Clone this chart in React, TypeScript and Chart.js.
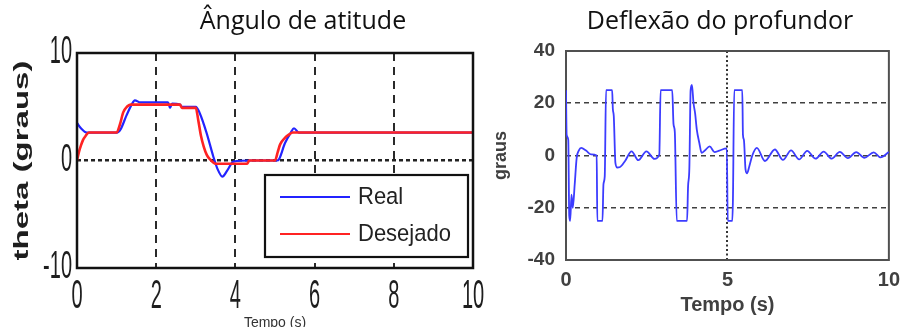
import React, { useEffect, useRef } from "react";
import { Chart, registerables } from "chart.js";

Chart.register(...registerables);
Chart.defaults.font.family = '"Liberation Sans", Arial, sans-serif';

// ---------- text ----------
const TITLE_LEFT = "Ângulo de atitude";
const TITLE_RIGHT = "Deflexão do profundor";
const LEFT_Y_LABEL = "theta (graus)";
const RIGHT_Y_LABEL = "graus";
const X_LABEL = "Tempo (s)";
const LABEL_REAL = "Real";
const LABEL_DESEJADO = "Desejado";

// ---------- ticks ----------
const leftXTicks = [0, 2, 4, 6, 8, 10];
const leftYTicks = [-10, 0, 10];
const rightXTicks = [0, 5, 10];
const rightYTicks = [-40, -20, 0, 20, 40];

// ---------- left chart: attitude angle ----------
const realT = [0, 0.1, 0.25, 0.35, 1.0, 1.1, 1.25, 1.38, 1.46, 1.6, 2.3, 2.35, 2.4, 2.6, 2.65, 3.0, 3.1, 3.27, 3.44, 3.55, 3.67, 3.8, 3.95, 4.4, 5.05, 5.1, 5.25, 5.4, 5.48, 5.6, 10];
const realV = [3.5, 3.0, 2.6, 2.6, 2.6, 2.9, 4.2, 5.2, 5.6, 5.4, 5.4, 4.9, 5.3, 5.2, 5.0, 5.0, 4.4, 2.6, 0.4, -0.8, -1.5, -0.9, -0.1, 0, 0, 0.1, 1.6, 2.6, 3.0, 2.6, 2.6];

const desT = [0, 0.05, 0.1, 0.15, 0.22, 0.3, 1.0, 1.08, 1.17, 1.26, 1.35, 2.6, 2.65, 3.0, 3.06, 3.13, 3.2, 3.28, 3.36, 3.5, 4.3, 4.35, 5.0, 5.07, 5.13, 5.25, 5.35, 5.45, 10];
const desV = [0, 0.8, 1.4, 1.9, 2.3, 2.6, 2.6, 3.3, 4.5, 5.0, 5.2, 5.2, 4.9, 4.9, 3.8, 2.3, 1.3, 0.5, 0.1, -0.3, -0.3, 0, 0, 0.8, 1.5, 2.1, 2.4, 2.6, 2.6];

// ---------- right chart: elevator deflection ----------
const deflT = [0, 0.02, 0.07, 0.1, 0.13, 0.17, 0.21, 0.27, 0.33, 0.4, 0.47, 0.62, 0.78, 0.95, 0.97, 1.13, 1.16, 1.2, 1.24, 1.43, 1.45, 1.48, 1.53, 1.59, 1.66, 1.83, 2.03, 2.24, 2.49, 2.74, 2.89, 2.93, 3.29, 3.33, 3.37, 3.43, 3.75, 3.78, 3.82, 3.86, 3.9, 3.95, 4.0, 4.05, 4.13, 4.2, 4.3, 4.45, 4.6, 4.75, 4.98, 5.01, 5.15, 5.17, 5.21, 5.46, 5.48, 5.51, 5.56, 5.61, 5.68, 5.77, 5.91, 6.16, 6.47, 6.72, 6.97, 7.22, 7.47, 7.73, 7.98, 8.23, 8.48, 8.73, 8.99, 9.24, 9.53, 9.74, 10];
const deflV = [25, 8, 6, -23, -25, -15, -20, -11, -1, 2, 2.9, 1.9, 0.4, 0, -25, -25, -11, -8, 25, 25, 18, 15, -2.8, -4.6, -4.5, -2.1, 1.6, -1.8, 1.6, -1.3, 0.4, 25, 25, 12, 9, -25, -25, -12, -5, 25, 27, 20, 16, 10, 4.8, 1, 1.9, 3.5, 1.3, 1.9, 2.7, -25, -25, -17, 25, 25, 8, 6, -5.3, -6.8, -4, 0, 2.9, -2.1, 2.3, -1.7, 2.0, -1.5, 1.8, -1.2, 1.5, -1.2, 1.4, -1.0, 1.3, -0.9, 1.2, -0.7, 1.3];

const zip = (t: number[], v: number[]) => t.map((x, i) => ({ x, y: v[i] }));
const TRANSPARENT = "rgba(0,0,0,0)";

function makeFrame(color: string, width: number, beforeData: boolean) {
  const draw = (chart: any) => {
    const { ctx, chartArea: a } = chart;
    ctx.save();
    ctx.setLineDash([]);
    ctx.strokeStyle = color;
    ctx.lineWidth = width;
    ctx.strokeRect(a.left, a.top, a.right - a.left, a.bottom - a.top);
    ctx.restore();
  };
  return beforeData
    ? { id: "frame", beforeDatasetsDraw: draw }
    : { id: "frame", afterDatasetsDraw: draw };
}

const leftLabels = {
  id: "leftLabels",
  afterDraw(chart: any) {
    const { ctx, chartArea: a, scales } = chart;
    const xs = scales.x;
    const ys = scales.y;
    ctx.save();
    ctx.fillStyle = "#1e1e1e";
    ctx.font = '20px "Liberation Sans", Arial, sans-serif';
    ctx.textBaseline = "middle";
    ctx.textAlign = "right";
    for (const t of ys.ticks) {
      ctx.save();
      ctx.translate(a.left - 5, ys.getPixelForValue(t.value));
      ctx.scale(1, 1.9);
      ctx.fillText(String(t.value), 0, 0);
      ctx.restore();
    }
    ctx.textAlign = "center";
    for (const t of xs.ticks) {
      ctx.save();
      ctx.translate(xs.getPixelForValue(t.value), a.bottom + 29);
      ctx.scale(1, 2.0);
      ctx.fillText(String(t.value), 0, 0);
      ctx.restore();
    }
    ctx.font = 'bold 20px "Liberation Sans", Arial, sans-serif';
    ctx.save();
    ctx.translate(22, (a.top + a.bottom) / 2);
    ctx.scale(1, 1.65);
    ctx.rotate(-Math.PI / 2);
    ctx.fillText(LEFT_Y_LABEL, 0, 0);
    ctx.restore();
    ctx.restore();
  },
};

const boxLegend = {
  id: "boxLegend",
  afterDraw(chart: any) {
    const { ctx, chartArea: a } = chart;
    const w = 203;
    const h = 82;
    const bx = a.right - 5 - w;
    const by = a.bottom - 11 - h;
    ctx.save();
    ctx.setLineDash([]);
    ctx.fillStyle = "#ffffff";
    ctx.fillRect(bx, by, w, h);
    ctx.strokeStyle = "#111111";
    ctx.lineWidth = 2.2;
    ctx.strokeRect(bx, by, w, h);
    const rows = [22, 59];
    chart.data.datasets.forEach((d: any, i: number) => {
      const yy = by + rows[i];
      ctx.strokeStyle = d.borderColor;
      ctx.lineWidth = 2;
      ctx.beginPath();
      ctx.moveTo(bx + 15, yy);
      ctx.lineTo(bx + 85, yy);
      ctx.stroke();
      ctx.fillStyle = "#222222";
      ctx.font = '22px "Liberation Sans", Arial, sans-serif';
      ctx.textAlign = "left";
      ctx.textBaseline = "middle";
      ctx.save();
      ctx.translate(bx + 93, yy);
      ctx.scale(1, 1.12);
      ctx.fillText(d.label, 0, 0);
      ctx.restore();
    });
    ctx.restore();
  },
};

function LeftChart() {
  const ref = useRef<HTMLCanvasElement | null>(null);
  useEffect(() => {
    if (!ref.current) return;
    const chart = new Chart(ref.current, {
      type: "line",
      data: {
        datasets: [
          {
            label: LABEL_REAL,
            data: zip(realT, realV),
            borderColor: "rgb(35,35,255)",
            borderWidth: 2.2,
            pointRadius: 0,
            cubicInterpolationMode: "monotone",
            order: 1,
          },
          {
            label: LABEL_DESEJADO,
            data: zip(desT, desV),
            borderColor: "rgb(255,35,35)",
            borderWidth: 2.6,
            pointRadius: 0,
            cubicInterpolationMode: "monotone",
            order: 0,
          },
        ],
      },
      options: {
        responsive: false,
        animation: false,
        events: [],
        layout: { padding: { left: 0, right: 17, top: 53, bottom: 0 } },
        plugins: { legend: { display: false }, title: { display: false }, tooltip: { enabled: false } },
        scales: {
          x: {
            type: "linear",
            min: 0,
            max: 10,
            afterBuildTicks: (s: any) => { s.ticks = leftXTicks.map((v) => ({ value: v })); },
            afterFit: (s: any) => { s.height = 59; },
            ticks: { display: false },
            grid: {
              drawTicks: false,
              lineWidth: 2,
              color: (c: any) => (c.tick && c.tick.value > 0 && c.tick.value < 10 ? "#2a2a2a" : TRANSPARENT),
            },
            border: { display: false, dash: [8, 6] },
            title: {
              display: true,
              text: X_LABEL,
              color: "#333333",
              font: { size: 14 },
              padding: { top: 0, bottom: -5 },
            },
          },
          y: {
            type: "linear",
            min: -10,
            max: 10,
            afterBuildTicks: (s: any) => { s.ticks = leftYTicks.map((v) => ({ value: v })); },
            afterFit: (s: any) => { s.width = 77; },
            ticks: { display: false },
            grid: {
              drawTicks: false,
              lineWidth: 2.5,
              color: (c: any) => (c.tick && c.tick.value === 0 ? "#222222" : TRANSPARENT),
            },
            border: { display: false, dash: [4, 3] },
          },
        },
      },
      plugins: [makeFrame("#111111", 2.5, false), leftLabels, boxLegend],
    } as any);
    return () => chart.destroy();
  }, []);
  return <canvas ref={ref} width={490} height={327} style={{ position: "absolute", left: 0, top: 0, width: 490, height: 327 }} />;
}

function RightChart() {
  const ref = useRef<HTMLCanvasElement | null>(null);
  useEffect(() => {
    if (!ref.current) return;
    const chart = new Chart(ref.current, {
      type: "line",
      data: {
        datasets: [
          {
            label: RIGHT_Y_LABEL,
            data: zip(deflT, deflV),
            borderColor: "rgb(60,60,255)",
            borderWidth: 1.8,
            pointRadius: 0,
            cubicInterpolationMode: "monotone",
          },
        ],
      },
      options: {
        responsive: false,
        animation: false,
        events: [],
        layout: { padding: { left: 0, right: 11, top: 51, bottom: 0 } },
        plugins: { legend: { display: false }, title: { display: false }, tooltip: { enabled: false } },
        scales: {
          x: {
            type: "linear",
            min: 0,
            max: 10,
            afterBuildTicks: (s: any) => { s.ticks = rightXTicks.map((v) => ({ value: v })); },
            afterFit: (s: any) => { s.height = 75; },
            ticks: { color: "#404040", font: { size: 20, weight: "bold" }, padding: 8, maxRotation: 0 },
            grid: {
              drawTicks: false,
              lineWidth: 2,
              color: (c: any) => (c.tick && c.tick.value === 5 ? "#333333" : TRANSPARENT),
            },
            border: { display: false, dash: [2, 2.5] },
            title: {
              display: true,
              text: X_LABEL,
              color: "#404040",
              font: { size: 20, weight: "bold" },
              padding: { top: 0, bottom: 18 },
            },
          },
          y: {
            type: "linear",
            min: -40,
            max: 40,
            afterBuildTicks: (s: any) => { s.ticks = rightYTicks.map((v) => ({ value: v })); },
            afterFit: (s: any) => { s.width = 76; },
            ticks: { color: "#404040", font: { size: 19, weight: "bold" }, padding: 11 },
            grid: {
              drawTicks: false,
              lineWidth: 1.6,
              color: (c: any) => (c.tick && Math.abs(c.tick.value) < 40 ? "#404040" : TRANSPARENT),
            },
            border: { display: false, dash: [5, 4] },
            title: {
              display: true,
              text: RIGHT_Y_LABEL,
              color: "#404040",
              font: { size: 18, weight: "bold" },
              padding: { top: 0, bottom: 0 },
            },
          },
        },
      },
      plugins: [makeFrame("#505050", 2, true)],
    } as any);
    return () => chart.destroy();
  }, []);
  return <canvas ref={ref} width={418} height={335} style={{ position: "absolute", left: 490, top: 0, width: 418, height: 335 }} />;
}

const titleStyle: React.CSSProperties = {
  position: "absolute",
  top: 3,
  transform: "translateX(-50%)",
  fontFamily: '"Open Sans", sans-serif',
  fontSize: 25,
  lineHeight: "32px",
  color: "#111111",
  whiteSpace: "nowrap",
};

export default function App() {
  return (
    <div style={{ position: "absolute", left: 0, top: 0, width: 908, height: 335, background: "#ffffff", overflow: "hidden" }}>
      <LeftChart />
      <RightChart />
      <div style={{ ...titleStyle, left: 303 }}>{TITLE_LEFT}</div>
      <div style={{ ...titleStyle, left: 720 }}>{TITLE_RIGHT}</div>
    </div>
  );
}
